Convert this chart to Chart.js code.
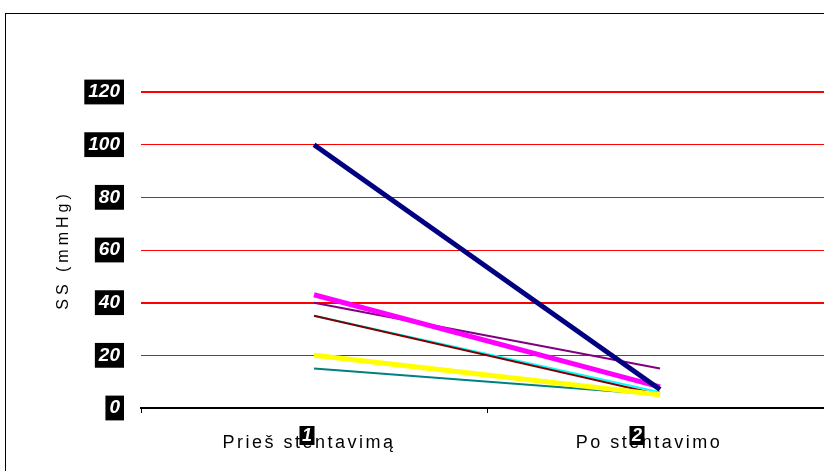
<!DOCTYPE html>
<html>
<head>
<meta charset="utf-8">
<script src="https://cdn.jsdelivr.net/npm/chart.js@4/dist/chart.umd.min.js"></script>
<style>
  html, body { margin: 0; padding: 0; background: #fff; overflow: hidden; width: 824px; height: 471px; }
  #frame { position: absolute; left: 5px; top: 13px; width: 900px; height: 600px; border: 1px solid #000; }
  #ss-chart { position: absolute; left: 0; top: 0; }
</style>
</head>
<body>
<div id="frame"></div>
<canvas id="ss-chart" width="850" height="471"></canvas>
<script>
// SS prieš ir po stentavimo
const stages      = ['Prieš stentavimą', 'Po stentavimo'];
const stageNums   = ['1', '2'];
const yTicks      = [0, 20, 40, 60, 80, 100, 120];

const navySeries    = [100, 7];
const magentaSeries = [43, 8];
const yellowSeries  = [20, 5];
const maroonSeries  = [35, 5];
const cyanSeries    = [35, 6];
const purpleSeries  = [40, 15];
const tealSeries    = [15, 5];

// text nudges for the category captions
const captionShift = [-5, -11];
const badgeShift   = [-7, -23];

const FONT = "'Liberation Sans', Arial, sans-serif";

function line(data, color, width) {
  return {
    data, borderColor: color, backgroundColor: color,
    borderWidth: width, pointRadius: 0, tension: 0,
    borderCapStyle: 'butt', borderJoinStyle: 'miter'
  };
}

const captionPlugin = {
  id: 'captions',
  afterDraw(chart) {
    const { ctx, chartArea, scales: { x } } = chart;
    ctx.save();

    // y axis title
    ctx.font = `16px ${FONT}`;
    ctx.letterSpacing = '4px';
    ctx.fillStyle = '#000';
    ctx.textAlign = 'center';
    ctx.textBaseline = 'middle';
    ctx.translate(64, (chartArea.top + chartArea.bottom) / 2);
    ctx.rotate(-Math.PI / 2);
    ctx.fillText('SS (mmHg)', 0, 0);
    ctx.setTransform(1, 0, 0, 1, 0, 0);

    stages.forEach((name, i) => {
      const px = x.getPixelForValue(i);
      ctx.font = `18px ${FONT}`;
      ctx.letterSpacing = '2.5px';
      ctx.fillStyle = '#000';
      ctx.textAlign = 'center';
      ctx.textBaseline = 'alphabetic';
      ctx.fillText(name, px + captionShift[i], 448);

      // numbered badge sits over the caption
      ctx.letterSpacing = '0px';
      ctx.font = `italic bold 18px ${FONT}`;
      const w = ctx.measureText(stageNums[i]).width + 5;
      const bx = px + badgeShift[i];
      ctx.fillStyle = '#000';
      ctx.fillRect(bx - w / 2, 426, w, 19);
      ctx.fillStyle = '#fff';
      ctx.textBaseline = 'middle';
      ctx.fillText(stageNums[i], bx, 436);
    });
    ctx.restore();
  }
};

new Chart(document.getElementById('ss-chart'), {
  type: 'line',
  data: {
    labels: stages,
    datasets: [
      line(navySeries, '#000080', 5),
      line(magentaSeries, '#ff00ff', 5),
      line(yellowSeries, '#ffff00', 5),
      line(maroonSeries, '#800000', 2),
      line(cyanSeries, '#00ffff', 2),
      line(purpleSeries, '#800080', 2),
      line(tealSeries, '#008080', 2)
    ]
  },
  options: {
    responsive: false,
    animation: false,
    devicePixelRatio: 1,
    layout: { padding: { top: 92, right: 17, left: 0, bottom: 0 } },
    plugins: { legend: { display: false }, tooltip: { enabled: false } },
    scales: {
      x: {
        offset: true,
        grid: { offset: true, drawOnChartArea: false, drawTicks: true, tickLength: 5, color: '#000', lineWidth: 1 },
        border: { display: true, color: '#000', width: 2 },
        ticks: { display: false },
        afterFit: s => { s.height = 63; }
      },
      y: {
        min: 0, max: 120,
        afterBuildTicks: s => { s.ticks = yTicks.map(v => ({ value: v })); },
        ticks: {
          padding: 21,
          color: '#fff',
          font: { family: FONT, size: 19, weight: 'bold', style: 'italic' },
          showLabelBackdrop: true,
          backdropColor: '#000',
          backdropPadding: { x: 4, y: 1 }
        },
        grid: {
          drawTicks: false,
          color: c => c.tick.value === 0 ? 'rgba(0,0,0,0)' : '#ff0000',
          lineWidth: c => (c.tick.value === 120 || c.tick.value === 40) ? 2 : 1
        },
        border: { display: false },
        afterFit: s => { s.width = 141; }
      }
    }
  },
  plugins: [captionPlugin]
});
</script>
</body>
</html>
